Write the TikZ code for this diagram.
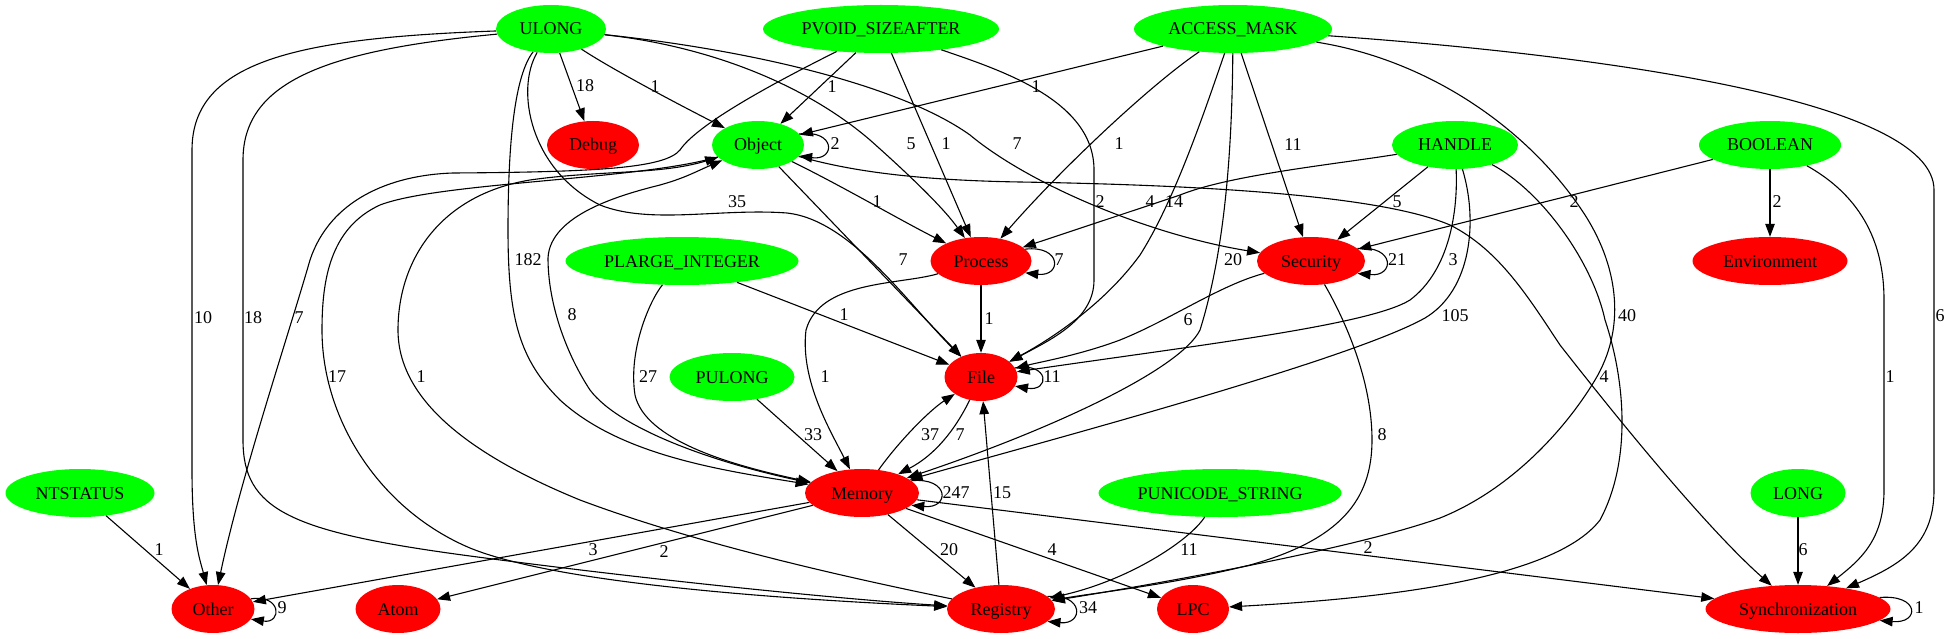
\documentclass[tikz,border=0pt]{standalone}
\usepackage{fontspec}
\setmainfont{Liberation Serif}
\usetikzlibrary{shapes.geometric,arrows.meta}
\definecolor{gvgreen}{RGB}{0,255,0}
\definecolor{gvred}{RGB}{255,0,0}
\begin{document}
\begin{tikzpicture}[x=1pt,y=-1pt,
  tnode/.style={ellipse, fill=gvgreen, inner sep=0pt, minimum height=48pt, text height=13pt, text depth=1pt, font=\fontsize{18}{20}\selectfont},
  cnode/.style={tnode, fill=gvred},
  conn/.style={line width=1.1pt, -{Triangle[length=13pt,width=9.5pt]}},
  lbl/.style={inner sep=0pt, font=\fontsize{18}{20}\selectfont}]
\useasboundingbox (0,0) rectangle (1945,639);
\fill[white] (0,0) rectangle (1945,639);

% nodes
\node[tnode, minimum width=110pt] (ULONG) at (551,29) {ULONG};
\node[tnode, minimum width=236pt] (PVOID) at (881,29) {PVOID\_SIZEAFTER};
\node[tnode, minimum width=198pt] (ACCESS) at (1233,29) {ACCESS\_MASK};
\node[cnode, minimum width=92pt] (Debug) at (593,145) {Debug};
\node[tnode, minimum width=92pt] (Object) at (758,145) {Object};
\node[tnode, minimum width=126pt] (HANDLE) at (1455,145) {HANDLE};
\node[tnode, minimum width=142pt] (BOOLEAN) at (1770,145) {BOOLEAN};
\node[tnode, minimum width=233pt] (PLARGE) at (682,261) {PLARGE\_INTEGER};
\node[cnode, minimum width=101pt] (Process) at (981,261) {Process};
\node[cnode, minimum width=108pt] (Security) at (1311,261) {Security};
\node[cnode, minimum width=155pt] (Environment) at (1770,261) {Environment};
\node[tnode, minimum width=125pt] (PULONG) at (732,377) {PULONG};
\node[cnode, minimum width=73pt] (File) at (981,377) {File};
\node[tnode, minimum width=149pt] (NTSTATUS) at (80,493) {NTSTATUS};
\node[cnode, minimum width=114pt] (Memory) at (862,493) {Memory};
\node[tnode, minimum width=243pt] (PUNICODE) at (1220,493) {PUNICODE\_STRING};
\node[tnode, minimum width=95pt] (LONG) at (1798,493) {LONG};
\node[cnode, minimum width=83pt] (Other) at (213,609) {Other};
\node[cnode, minimum width=85pt] (Atom) at (398,609) {Atom};
\node[cnode, minimum width=108pt] (Registry) at (1001,609) {Registry};
\node[cnode, minimum width=72pt] (LPC) at (1193,609) {LPC};
\node[cnode, minimum width=185pt] (Sync) at (1798,609) {Synchronization};

% ULONG
\draw[conn] (ULONG) .. controls (300,38) and (192,60) .. (192,150) -- (192,470) .. controls (192,540) and (200,560) .. (Other);
\draw[conn] (ULONG) .. controls (330,50) and (243,80) .. (243,160) -- (243,440) .. controls (243,510) and (290,532) .. (470,556) .. controls (650,580) and (850,600) .. (Registry);
\draw[conn] (ULONG) -- (Debug);
\draw[conn] (ULONG) .. controls (610,68) and (670,100) .. (Object);
\draw[conn] (ULONG) .. controls (700,45) and (800,80) .. (870,140) .. controls (915,180) and (945,210) .. (Process);
\draw[conn] (ULONG) .. controls (750,50) and (900,85) .. (970,135) .. controls (1030,185) and (1150,235) .. (Security);
\draw[conn] (ULONG) .. controls (515,75) and (508,140) .. (508,230) .. controls (508,320) and (520,360) .. (560,400) .. controls (620,455) and (720,470) .. (Memory);
\draw[conn] (ULONG) .. controls (515,90) and (530,170) .. (600,205) .. controls (650,225) and (720,208) .. (787,213) .. controls (850,220) and (905,300) .. (File);

% PVOID_SIZEAFTER
\draw[conn] (PVOID) -- (Object);
\draw[conn] (PVOID) -- (Process);
\draw[conn] (PVOID) .. controls (1000,70) and (1094,100) .. (1094,170) -- (1094,280) .. controls (1094,320) and (1050,340) .. (File);
\draw[conn] (PVOID) .. controls (800,70) and (700,120) .. (680,150) .. controls (665,168) and (600,172) .. (453,173) .. controls (390,175) and (330,200) .. (310,260) .. controls (290,330) and (240,480) .. (Other);

% ACCESS_MASK
\draw[conn] (ACCESS) -- (Object);
\draw[conn] (ACCESS) .. controls (1150,85) and (1060,170) .. (Process);
\draw[conn] (ACCESS) .. controls (1205,110) and (1175,200) .. (1140,255) .. controls (1100,310) and (1040,345) .. (File);
\draw[conn] (ACCESS) .. controls (1232,150) and (1225,250) .. (1200,330) .. controls (1180,370) and (1050,430) .. (Memory);
\draw[conn] (ACCESS) -- (Security);
\draw[conn] (ACCESS) .. controls (1430,60) and (1530,130) .. (1585,215) .. controls (1620,270) and (1625,330) .. (1595,380) .. controls (1565,430) and (1510,490) .. (1440,518) .. controls (1350,550) and (1150,585) .. (Registry);
\draw[conn] (ACCESS) .. controls (1600,55) and (1934,100) .. (1934,190) -- (1934,490) .. controls (1934,545) and (1900,565) .. (Sync);

% HANDLE
\draw[conn] (HANDLE) .. controls (1330,165) and (1230,175) .. (1180,195) .. controls (1120,215) and (1060,235) .. (Process);
\draw[conn] (HANDLE) -- (Security);
\draw[conn] (HANDLE) .. controls (1458,210) and (1450,270) .. (1410,300) .. controls (1370,325) and (1200,345) .. (File);
\draw[conn] (HANDLE) .. controls (1478,220) and (1472,290) .. (1425,318) .. controls (1350,360) and (1050,440) .. (Memory);
\draw[conn] (HANDLE) .. controls (1540,190) and (1592,260) .. (1605,320) .. controls (1625,380) and (1632,460) .. (1600,520) .. controls (1550,585) and (1350,600) .. (LPC);

% BOOLEAN
\draw[conn] (BOOLEAN) -- (Security);
\draw[conn] (BOOLEAN) -- (Environment);
\draw[conn] (BOOLEAN) .. controls (1850,190) and (1884,230) .. (1884,300) -- (1884,490) .. controls (1884,540) and (1860,560) .. (Sync);

% Object
\draw[conn] (Object.15) .. controls (836,129) and (836,161) .. (Object.-15);
\draw[conn] (Object) .. controls (840,185) and (900,220) .. (Process);
\draw[conn] (Object) -- (File);
\draw[conn] (Object) .. controls (840,168) and (900,180) .. (1020,182) .. controls (1200,185) and (1380,195) .. (1450,225) .. controls (1500,250) and (1530,300) .. (1560,345) .. controls (1650,460) and (1720,540) .. (Sync);
\draw[conn] (Object) .. controls (640,180) and (440,182) .. (380,205) .. controls (330,228) and (322,280) .. (322,330) .. controls (322,420) and (380,510) .. (470,548) .. controls (560,585) and (800,600) .. (Registry);

% Process
\draw[conn] (Process.15) .. controls (1062,245) and (1062,277) .. (Process.-15);
\draw[conn] (Process) -- (File);
\draw[conn] (Process) .. controls (900,285) and (820,280) .. (806,330) .. controls (800,380) and (830,430) .. (Memory);

% Security
\draw[conn] (Security.15) .. controls (1395,245) and (1395,277) .. (Security.-15);
\draw[conn] (Security) .. controls (1220,285) and (1170,320) .. (1120,340) .. controls (1080,355) and (1040,362) .. (File);
\draw[conn] (Security) .. controls (1345,320) and (1372,380) .. (1372,440) .. controls (1372,500) and (1340,540) .. (1250,565) .. controls (1170,585) and (1100,592) .. (Registry);

% File
\draw[conn] (File.15) .. controls (1050,362) and (1050,392) .. (File.-15);
\draw[conn] (File) .. controls (955,430) and (935,455) .. (Memory);

% PLARGE_INTEGER, PULONG, NTSTATUS
\draw[conn] (PLARGE) -- (File);
\draw[conn] (PLARGE) .. controls (650,300) and (628,350) .. (635,395) .. controls (645,440) and (730,465) .. (Memory);
\draw[conn] (PULONG) -- (Memory);
\draw[conn] (NTSTATUS) -- (Other);

% Memory
\draw[conn] (Memory.14) .. controls (950,477) and (950,509) .. (Memory.-14);
\draw[conn] (Memory) .. controls (900,440) and (930,410) .. (File);
\draw[conn] (Memory) -- (Other);
\draw[conn] (Memory) -- (Atom);
\draw[conn] (Memory) -- (Registry);
\draw[conn] (Memory) -- (LPC);
\draw[conn] (Memory) -- (Sync);
\draw[conn] (Memory) .. controls (720,465) and (620,430) .. (590,390) .. controls (567,355) and (548,305) .. (548,258) .. controls (550,215) and (620,195) .. (660,185) .. controls (685,178) and (695,172) .. (Object);

% PUNICODE_STRING, Registry, LONG, Other, Synchronization
\draw[conn] (PUNICODE) .. controls (1190,540) and (1130,580) .. (Registry);
\draw[conn] (Registry.15) .. controls (1084,593) and (1084,625) .. (Registry.-15);
\draw[conn] (Registry) -- (File);
\draw[conn] (Registry) .. controls (850,578) and (700,545) .. (580,500) .. controls (470,455) and (398,400) .. (398,330) .. controls (398,260) and (440,195) .. (530,180) .. controls (600,170) and (660,175) .. (Object);
\draw[conn] (LONG) -- (Sync);
\draw[conn] (Other.15) .. controls (282,594) and (282,624) .. (Other.-15);
\draw[conn] (Sync.8) .. controls (1920,594) and (1920,624) .. (Sync.-8);

% edge labels
\node[lbl] (l01) at (203,318) {10};
\node[lbl] (l02) at (253,318) {18};
\node[lbl] (l03) at (585,86) {18};
\node[lbl] (l04) at (655,87) {1};
\node[lbl] (l05) at (911,144) {5};
\node[lbl] (l06) at (1017,144) {7};
\node[lbl] (l07) at (528,260) {182};
\node[lbl] (l08) at (737,202) {35};
\node[lbl] (l09) at (832,87) {1};
\node[lbl] (l10) at (946,144) {1};
\node[lbl] (l11) at (1100,202) {2};
\node[lbl] (l12) at (299,318) {7};
\node[lbl] (l13) at (1036,87) {1};
\node[lbl] (l14) at (1119,144) {1};
\node[lbl] (l15) at (1174,202) {14};
\node[lbl] (l16) at (1233,260) {20};
\node[lbl] (l17) at (1293,145) {11};
\node[lbl] (l18) at (1627,316) {40};
\node[lbl] (l19) at (1940,316) {6};
\node[lbl] (l20) at (1150,202) {4};
\node[lbl] (l21) at (1397,202) {5};
\node[lbl] (l22) at (1453,260) {3};
\node[lbl] (l23) at (1455,316) {105};
\node[lbl] (l24) at (1574,202) {2};
\node[lbl] (l25) at (1777,202) {2};
\node[lbl] (l26) at (1890,377) {1};
\node[lbl] (l27) at (835,144) {2};
\node[lbl] (l28) at (877,202) {1};
\node[lbl] (l29) at (903,260) {7};
\node[lbl] (l30) at (1604,377) {4};
\node[lbl] (l31) at (1059,260) {7};
\node[lbl] (l32) at (989,319) {1};
\node[lbl] (l33) at (825,377) {1};
\node[lbl] (l34) at (1397,260) {21};
\node[lbl] (l35) at (1188,320) {6};
\node[lbl] (l36) at (1382,435) {8};
\node[lbl] (l37) at (1052,377) {11};
\node[lbl] (l38) at (960,435) {7};
\node[lbl] (l39) at (930,435) {37};
\node[lbl] (l40) at (844,315) {1};
\node[lbl] (l41) at (648,377) {27};
\node[lbl] (l42) at (813,435) {33};
\node[lbl] (l43) at (159,550) {1};
\node[lbl] (l44) at (956,493) {247};
\node[lbl] (l45) at (593,550) {3};
\node[lbl] (l46) at (664,552) {2};
\node[lbl] (l47) at (949,550) {20};
\node[lbl] (l48) at (1052,550) {4};
\node[lbl] (l49) at (1368,548) {2};
\node[lbl] (l50) at (1189,550) {11};
\node[lbl] (l51) at (1002,493) {15};
\node[lbl] (l52) at (1088,608) {34};
\node[lbl] (l53) at (1803,550) {6};
\node[lbl] (l54) at (282,608) {9};
\node[lbl] (l55) at (1919,608) {1};
\node[lbl] (l56) at (421,377) {1};
\node[lbl] (l57) at (337,377) {17};
\node[lbl] (l58) at (572,315) {8};
\end{tikzpicture}
\end{document}
